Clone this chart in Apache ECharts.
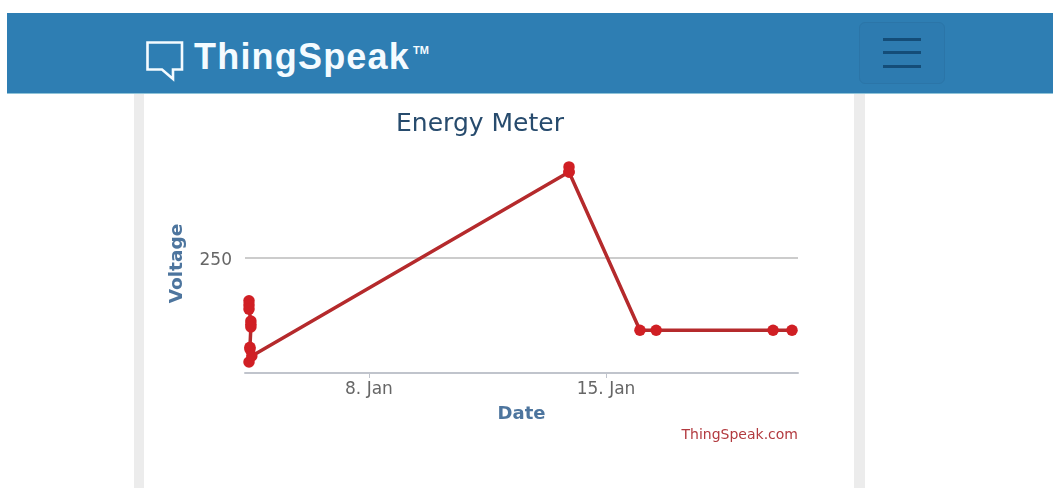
<!DOCTYPE html>
<html>
<head>
<meta charset="utf-8">
<title>Energy Meter</title>
<script src="https://cdn.jsdelivr.net/npm/echarts@6/dist/echarts.min.js"></script>
<style>
  html, body { margin: 0; padding: 0; background: #fff; overflow: hidden; }
  #page { position: relative; width: 1053px; height: 488px; }
  .navbar { position: absolute; left: 7px; top: 13px; width: 1046px; height: 81px; background: #2e7eb3; border-bottom: 1px solid #8fc3d8; box-sizing: border-box; }
  .brand { position: absolute; left: 194px; top: 33px; font: bold 36px "Liberation Sans", sans-serif; letter-spacing: 1.2px; color: #f4fbff; line-height: 48px; }
  .brand sup { font-size: 11px; font-weight: bold; vertical-align: 15px; line-height: 0; margin-left: 3px; letter-spacing: 0; }
  .logo { position: absolute; left: 145px; top: 40px; }
  .toggle { position: absolute; left: 859px; top: 22px; width: 86px; height: 62px; box-sizing: border-box; border: 1px solid #2b75a8; border-radius: 6px; background: #2d7bb0; }
  .toggle i { position: absolute; left: 23px; width: 38px; height: 3px; background: #144d78; }
  .side { position: absolute; top: 94px; height: 394px; width: 11px; background: #ececec; }
  #chart { position: absolute; left: 0; top: 0; width: 1053px; height: 488px; }
</style>
</head>
<body>
<div id="page">
  <div class="side" style="left:134px;width:10px"></div>
  <div class="side" style="left:854px"></div>
  <div class="navbar"></div>
  <svg class="logo" width="40" height="42" viewBox="0 0 40 42">
    <path d="M2.5 2.5 H37 V29.5 H28 V39 L17 29.5 H2.5 Z" fill="none" stroke="#f4fbff" stroke-width="2.6"/>
  </svg>
  <div class="brand">ThingSpeak<sup>TM</sup></div>
  <div class="toggle">
    <i style="top:15px"></i><i style="top:28px"></i><i style="top:42px"></i>
  </div>
  <div id="chart"></div>
</div>
<script>
"use strict";

// 读图估计的数据
const times = [
  "2021-01-04 11:00", "2021-01-04 11:00", "2021-01-04 11:00",
  "2021-01-04 12:20", "2021-01-04 12:20", "2021-01-04 12:20",
  "2021-01-04 11:40", "2021-01-04 11:40", "2021-01-04 11:00", "2021-01-04 13:00",
  "2021-01-13 21:45", "2021-01-13 21:45", "2021-01-13 21:45",
  "2021-01-16 00:00", "2021-01-16 11:30", "2021-01-19 22:20", "2021-01-20 11:45"
];
const voltage = [
  157, 148, 139,
  113, 106, 100,
  56, 52, 24, 37,
  437, 448, 437,
  93, 93, 93, 93
];
const xTicks = ["2021-01-08 00:00", "2021-01-15 00:00"];
const xTickLabels = ["8. Jan", "15. Jan"];
const yTicks = [250];

const FONT = '"DejaVu Sans", sans-serif';

function toMs(t) {
  return new Date(t.replace(" ", "T")).getTime();
}

document.addEventListener("DOMContentLoaded", () => {
  const xTickValues = xTicks.map(toMs);
  const chart = echarts.init(document.getElementById("chart"), null, { renderer: "canvas" });

  chart.setOption({
    backgroundColor: "transparent",
    animation: false,
    title: [
      {
        text: "Energy Meter",
        left: 480, top: 112, padding: 0, textAlign: "center",
        textStyle: { color: "#274b6d", fontSize: 25, fontWeight: "normal", fontFamily: FONT }
      },
      {
        text: "ThingSpeak.com",
        left: 798, top: 428, padding: 0, textAlign: "right",
        textStyle: { color: "#b23a3f", fontSize: 14, fontWeight: "normal", fontFamily: FONT }
      }
    ],
    grid: { left: 245, top: 143, width: 553, height: 230 },
    xAxis: {
      type: "value",
      min: toMs("2021-01-04 08:10"),
      max: toMs("2021-01-20 16:00"),
      name: "Date",
      nameLocation: "middle",
      nameGap: 32,
      nameTextStyle: { color: "#4d759e", fontSize: 18, fontWeight: "bold", fontFamily: FONT },
      axisLine: { show: true, lineStyle: { color: "#c0c4cc", width: 2 } },
      axisTick: { show: true, length: 5, customValues: xTickValues, lineStyle: { color: "#c0c4cc" } },
      axisLabel: {
        customValues: xTickValues,
        margin: 8,
        color: "#666666", fontSize: 17, fontFamily: FONT,
        formatter: v => xTickLabels[xTickValues.indexOf(v)]
      },
      splitLine: { show: false }
    },
    yAxis: {
      type: "value",
      min: 0, max: 500, interval: yTicks[0],
      name: "Voltage",
      nameLocation: "middle",
      nameGap: 58,
      nameTextStyle: { color: "#4d759e", fontSize: 18.5, fontWeight: "bold", fontFamily: FONT, padding: [0, 11, 0, 0] },
      axisLine: { show: false },
      axisTick: { show: false },
      axisLabel: {
        margin: 13,
        color: "#666666", fontSize: 17, fontFamily: FONT,
        verticalAlign: "top", lineHeight: 6,
        showMinLabel: false, showMaxLabel: false
      },
      splitLine: { show: true, showMinLine: false, showMaxLine: false, lineStyle: { color: "#cccccc", width: 2 } }
    },
    series: [{
      type: "line",
      data: times.map((t, i) => [toMs(t), voltage[i]]),
      symbol: "circle",
      symbolSize: 11.5,
      showAllSymbol: true,
      lineStyle: { color: "#b52a2c", width: 3.5 },
      itemStyle: { color: "#d01f24" }
    }]
  });
});
</script>
</body>
</html>
